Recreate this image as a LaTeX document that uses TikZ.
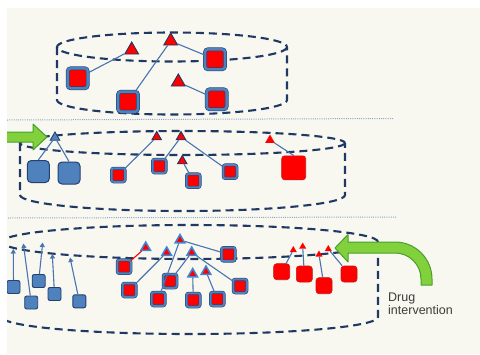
\documentclass[tikz,border=0pt]{standalone}
\usepackage{fontspec}
\newfontfamily\labfont{Liberation Sans}
\usetikzlibrary{shapes.geometric,arrows.meta}

\definecolor{paper}{RGB}{248,248,240}
\definecolor{navy}{RGB}{31,56,100}
\definecolor{edgeblue}{RGB}{35,64,110}
\definecolor{blueF}{RGB}{79,129,189}
\definecolor{linkblue}{RGB}{72,116,176}
\definecolor{lightblue}{RGB}{60,135,215}
\definecolor{sqred}{RGB}{255,0,0}
\definecolor{darkred}{RGB}{200,20,20}
\definecolor{divblue}{RGB}{140,165,200}
\definecolor{greenF}{RGB}{130,208,60}
\definecolor{greenD}{RGB}{70,160,45}
\definecolor{textgray}{RGB}{60,60,60}

\begin{document}
\begin{tikzpicture}[x=1pt,y=-1pt,
  cyl/.style={draw=navy, line width=2.1pt, dash pattern=on 8pt off 5pt},
  divider/.style={draw=divblue, line width=1pt, dash pattern=on 1pt off 1.2pt},
  conn/.style={draw=linkblue, line width=1.1pt},
  upconn/.style={conn, -{Triangle[width=5pt,length=4.5pt,fill=blueF]}},
  bsqL/.style={rectangle, rounded corners=3pt, minimum size=20pt, inner sep=0pt,
    fill=sqred, draw=edgeblue, double=blueF, double distance=2.6pt, line width=0.6pt},
  bsqS/.style={rectangle, rounded corners=2pt, minimum size=13.5pt, inner sep=0pt,
    fill=sqred, draw=edgeblue, double=blueF, double distance=2pt, line width=0.5pt},
  bboxL/.style={rectangle, rounded corners=4pt, minimum size=22pt, inner sep=0pt,
    fill=blueF, draw=edgeblue, line width=1pt},
  bboxS/.style={rectangle, rounded corners=2pt, minimum size=13pt, inner sep=0pt,
    fill=blueF, draw=edgeblue, line width=0.9pt},
  rbox/.style={rectangle, rounded corners=3pt, minimum size=#1, inner sep=0pt,
    fill=sqred, draw=darkred, line width=0.6pt},
  tri/.style={regular polygon, regular polygon sides=3, inner sep=0pt},
  triL/.style={tri, minimum size=16pt, fill=sqred, draw=navy, line width=0.9pt},
  triM/.style={tri, minimum size=11pt, fill=sqred, draw=navy, line width=0.9pt},
  triC/.style={tri, minimum size=11pt, fill=sqred, draw=lightblue, line width=1.5pt},
  triB/.style={tri, minimum size=11pt, fill=blueF, draw=edgeblue, line width=0.9pt},
  triR/.style={tri, minimum size=8pt, fill=sqred},
  greenarrow/.style={fill=greenF, draw=greenD, line width=1pt, line join=round}
]
\fill[white] (0,0) rectangle (480,354);
\useasboundingbox (0,0) rectangle (480,354);
\begin{scope}
\clip (7,8) rectangle (480,354);
\fill[paper] (7,8) rectangle (480,354);

% level separators
\draw[divider] (7,120) -- (393,118.5);
\draw[divider] (8,218) -- (397,217);

% cylinder outlines
\draw[cyl] (172,47) ellipse [x radius=115, y radius=14.5];
\draw[cyl] (57,47) -- (57,100) arc[start angle=180, end angle=0, x radius=115, y radius=14.5] -- (287,47);

\draw[cyl] (182.5,143) ellipse [x radius=162.5, y radius=12];
\draw[cyl] (20,143) -- (20,195) arc[start angle=180, end angle=0, x radius=162.5, y radius=16] -- (345,143);

\draw[cyl] (190,242) ellipse [x radius=188, y radius=17];
\draw[cyl] (2,242) -- (2,317) arc[start angle=180, end angle=0, x radius=188, y radius=17] -- (378,242);

% ---- top level ----
\node[bsqL] (q11) at (77.7,78.3) {};
\node[bsqL] (q12) at (128,101.7) {};
\node[bsqL] (q13) at (215,59.3) {};
\node[bsqL] (q14) at (216.7,99.3) {};
\node[triL] (t11) at (131.7,50) {};
\node[triL] (t12) at (170.7,41) {};
\node[triL] (t13) at (178.3,82) {};
\draw[conn] (q11) -- (t11);
\draw[conn] (t12) -- (q12);
\draw[conn] (t12) -- (q13);
\draw[conn] (t13) -- (q14);

% ---- middle level ----
\node[bboxL] (bA) at (38.3,171.5) {};
\node[bboxL] (bB) at (69,173) {};
\node[triB] (tB) at (55,137.5) {};
\draw[conn] (tB) -- (bA.north);
\draw[conn] (tB) -- (bB.north);

\node[bsqS] (r21) at (118.3,175) {};
\node[bsqS] (r22) at (159.3,166) {};
\node[bsqS] (r23) at (193.3,180.7) {};
\node[bsqS] (r24) at (230,171.7) {};
\node[rbox=24pt] (R2) at (293.7,167.8) {};
\node[triM] (t21) at (156.7,137) {};
\node[triM] (t22) at (181,137) {};
\node[triM] (t23) at (182.3,161) {};
\node[tri, minimum size=11pt, fill=sqred] (t24) at (270,140) {};
\draw[conn] (t21) -- (r21);
\draw[conn] (t22) -- (r22);
\draw[conn] (t22) -- (r24);
\draw[conn] (t23) -- (r23);
\draw[conn] (t24) -- (R2.north);

% entering arrow
\draw[greenarrow] (-2,132) -- (33,132) -- (33,124) -- (47,137) -- (33,150) -- (33,142) -- (-2,142) -- cycle;

% ---- bottom level ----
\node[bboxS] (b1) at (13.5,287) {};
\node[bboxS] (b2) at (31.2,302.5) {};
\node[bboxS] (b3) at (38.7,281) {};
\node[bboxS] (b4) at (54.5,294) {};
\node[bboxS] (b5) at (79.3,301.3) {};
\coordinate (a1) at (13.3,249);
\coordinate (a2) at (23.3,243.5);
\coordinate (a3) at (42.7,242.5);
\coordinate (a4) at (52.3,254);
\coordinate (a5) at (70,257.5);
\draw[upconn] (b1) -- (a1);
\draw[upconn] (b2) -- (a2);
\draw[upconn] (b3) -- (a3);
\draw[upconn] (b4) -- (a4);
\draw[upconn] (b5) -- (a5);

\node[bsqS] (s1) at (124,266.7) {};
\node[bsqS] (s2) at (129.3,290) {};
\node[bsqS] (s3) at (158.3,299) {};
\node[bsqS] (s4) at (170,281) {};
\node[bsqS] (s5) at (193.3,300) {};
\node[bsqS] (s6) at (217.3,299) {};
\node[bsqS] (s7) at (228.3,254.3) {};
\node[bsqS] (s8) at (240,286) {};
\node[triC] (u1) at (145.7,247.5) {};
\node[triC] (u2) at (166.7,252.5) {};
\node[triC] (u3) at (180,240) {};
\node[triC] (u4) at (191.7,252.5) {};
\node[triC] (u5) at (192.7,274) {};
\node[triC] (u6) at (206,271.5) {};
\draw[conn, draw=sqred] (s1) -- (u1);
\draw[conn] (u2) -- (s2);
\draw[conn] (u3) -- (s3);
\draw[conn] (u3) -- (s7);
\draw[conn] (u4) -- (s4);
\draw[conn] (u4) -- (s8);
\draw[conn] (u5) -- (s5);
\draw[conn] (u6) -- (s6);

\node[rbox=16pt] (p1) at (281.7,271.7) {};
\node[rbox=16pt] (p2) at (304.3,274) {};
\node[rbox=16pt] (p3) at (324,285.7) {};
\node[rbox=16pt] (p4) at (349,274) {};
\node[triR] (v1) at (293.3,250) {};
\node[triR] (v2) at (302.7,246.5) {};
\node[triR] (v3) at (319,254.5) {};
\node[triR] (v4) at (328.3,249) {};
\draw[conn] (v1) -- (p1);
\draw[conn] (v2) -- (p2);
\draw[conn] (v3) -- (p3);
\draw[conn] (v4) -- (p4);

% drug arrow
\draw[greenarrow] (335,248) -- (348,234.5) -- (348,242) -- (395,242)
  arc[start angle=-90, end angle=0, radius=37] -- (432,285) -- (421,285) -- (421,279)
  arc[start angle=0, end angle=-90, radius=26] -- (348,253) -- (348,262) -- cycle;

\node[anchor=north west, align=left, inner sep=0pt, text=textgray,
  font=\labfont\fontsize{12.5}{13.5}\selectfont] (lbl) at (388,292.5) {Drug\\intervention};
\end{scope}
\end{tikzpicture}
\end{document}
